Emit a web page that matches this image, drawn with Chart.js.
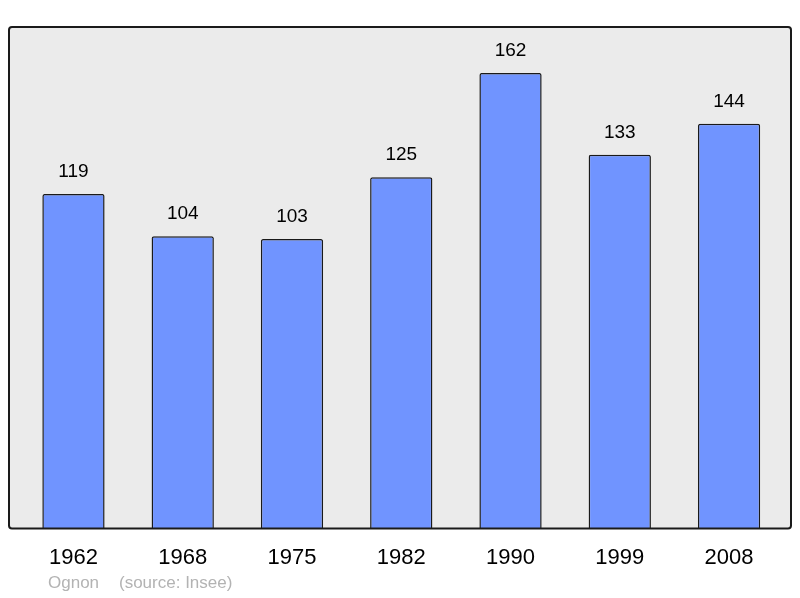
<!DOCTYPE html>
<html>
<head>
<meta charset="utf-8">
<script src="https://cdn.jsdelivr.net/npm/chart.js@4"></script>
<style>
  html, body { margin: 0; padding: 0; background: #fff; }
  #wrap { width: 800px; height: 598px; }
</style>
</head>
<body>
<div id="wrap"><canvas id="chart" width="800" height="598"></canvas></div>
<script>
// donnees de population (Ognon)
const years = ['1962', '1968', '1975', '1982', '1990', '1999', '2008'];
const population = [119, 104, 103, 125, 162, 133, 144];
const yMax = 178.4;

Chart.defaults.font.family = "'Liberation Sans', Arial, sans-serif";
Chart.defaults.color = '#000';

// cadre gris + valeurs au dessus des barres + source
const decorPlugin = {
    id: 'decor',
    beforeDraw(chart) {
        const { ctx, chartArea: a } = chart;
        ctx.save();
        ctx.fillStyle = '#ebebeb';
        ctx.beginPath();
        ctx.roundRect(a.left, a.top, a.right - a.left, a.bottom - a.top, 3);
        ctx.fill();
        ctx.restore();
    },
    afterDatasetsDraw(chart) {
        const { ctx, chartArea: a } = chart;
        ctx.save();
        ctx.strokeStyle = '#1a1a1a';
        ctx.lineWidth = 2;
        ctx.beginPath();
        ctx.roundRect(a.left, a.top, a.right - a.left, a.bottom - a.top, 3);
        ctx.stroke();

        const meta = chart.getDatasetMeta(0);
        ctx.fillStyle = '#000';
        ctx.font = "19px 'Liberation Sans', Arial, sans-serif";
        ctx.textAlign = 'center';
        ctx.textBaseline = 'middle';
        meta.data.forEach((bar, i) => {
            ctx.fillText(String(population[i]), bar.x, bar.y - 22);
        });

        ctx.fillStyle = '#b3b3b3';
        ctx.font = "17px 'Liberation Sans', Arial, sans-serif";
        ctx.textAlign = 'left';
        ctx.fillText('Ognon', 48, 583);
        ctx.fillText('(source: Insee)', 119, 583);
        ctx.restore();
    }
};

new Chart(document.getElementById('chart'), {
    type: 'bar',
    data: {
        datasets: [{
            data: population.map((v, i) => ({ x: i, y: v })),
            backgroundColor: '#7094ff',
            borderColor: '#1a1a1a',
            borderWidth: 1.5,
            borderSkipped: 'bottom',
            borderRadius: 2,
            barPercentage: 0.57,
            categoryPercentage: 1
        }]
    },
    options: {
        responsive: false,
        animation: false,
        layout: { padding: { left: 9, right: 9, top: 27, bottom: 11 } },
        plugins: { legend: { display: false }, tooltip: { enabled: false } },
        scales: {
            x: {
                type: 'linear',
                offset: false,
                min: -0.59,
                max: 6.567,
                grid: { display: false, drawTicks: false },
                border: { display: false },
                afterBuildTicks: axis => { axis.ticks = years.map((_, i) => ({ value: i })); },
                ticks: {
                    padding: 16,
                    autoSkip: false,
                    maxRotation: 0,
                    font: { size: 22 },
                    color: '#000',
                    callback: v => years[v] ?? ''
                }
            },
            y: {
                display: false,
                min: 0,
                max: yMax
            }
        }
    },
    plugins: [decorPlugin]
});
</script>
</body>
</html>
